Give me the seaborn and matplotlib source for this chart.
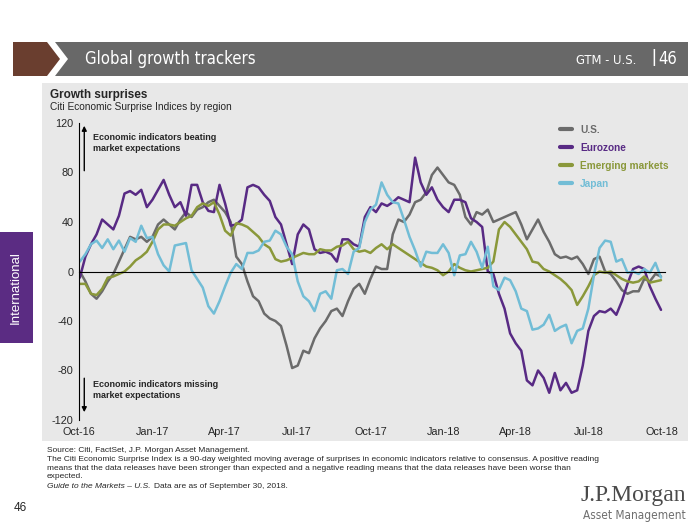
"""Global growth trackers - Citi Economic Surprise Indices by region."""

import pandas as pd
import matplotlib.pyplot as plt
import matplotlib.dates as mdates
from matplotlib.patches import Polygon, Rectangle
import seaborn as sns

###########
# Data    #
###########
# weekly readings, Oct-16 to end of Sep-18
dates = pd.date_range('2016-10-02', periods=105, freq='7D')

us = [0, -8, -18, -22, -16, -8, -2, 8, 18, 28,
      26, 28, 24, 28, 38, 42, 38, 34, 42, 48,
      44, 50, 52, 56, 58, 53, 48, 40, 12, 6,
      -8, -20, -24, -34, -38, -40, -44, -60, -78, -76,
      -64, -66, -54, -46, -40, -32, -30, -36, -24, -14,
      -10, -18, -6, 4, 2, 2, 30, 42, 40, 46,
      56, 58, 64, 78, 84, 78, 72, 70, 62, 44,
      38, 48, 46, 50, 40, 42, 44, 46, 48, 38,
      26, 34, 42, 32, 24, 14, 11, 12, 10, 12,
      6, -2, 10, 12, 0, -2, -8, -15, -18, -16,
      -16, -6, -8, -2, -4]

eurozone = [-5, 12, 22, 30, 42, 38, 34, 45, 63, 65,
            62, 66, 52, 58, 66, 74, 62, 52, 56, 45,
            70, 70, 56, 49, 48, 70, 55, 37, 38, 42,
            68, 70, 68, 62, 57, 44, 38, 22, 6, 30,
            38, 34, 18, 15, 16, 14, 8, 26, 26, 22,
            20, 44, 52, 48, 55, 53, 56, 60, 58, 56,
            92, 72, 62, 68, 58, 52, 48, 58, 58, 56,
            43, 40, 36, 0, -2, -18, -30, -50, -58, -64,
            -88, -92, -80, -86, -98, -82, -96, -90, -98, -96,
            -76, -48, -36, -32, -33, -30, -35, -24, -10, 2,
            4, 2, -12, -22, -31]

emerging = [-10, -10, -18, -19, -14, -5, -4, -2, 0, 4,
            9, 12, 16, 24, 34, 38, 38, 37, 40, 43,
            45, 52, 55, 53, 56, 46, 33, 29, 39, 38,
            36, 32, 28, 22, 19, 10, 8, 9, 11, 13,
            15, 14, 14, 18, 17, 17, 20, 21, 24, 18,
            16, 17, 15, 19, 22, 18, 22, 19, 16, 13,
            10, 7, 4, 3, 1, -3, 0, 6, 3, 1,
            0, 1, 2, 3, 8, 34, 40, 36, 30, 24,
            18, 8, 7, 2, 0, -3, -6, -10, -15, -27,
            -20, -12, -3, 0, -1, 0, -3, -6, -8, -9,
            -8, -4, -9, -8, -7]

japan = [8, 14, 22, 25, 19, 26, 18, 25, 16, 27,
         24, 37, 27, 28, 14, 5, 0, 21, 22, 23,
         1, -6, -13, -28, -34, -24, -12, -1, 6, 2,
         15, 15, 17, 24, 25, 33, 30, 20, 14, -8,
         -20, -24, -32, -18, -16, -22, 1, 2, -2, 16,
         19, 40, 50, 54, 72, 62, 56, 55, 42, 28,
         17, 4, 16, 15, 15, 22, 15, -3, 13, 14,
         24, 16, 3, 20, -12, -15, -5, -7, -16, -30,
         -32, -47, -46, -43, -35, -48, -45, -43, -58, -48,
         -46, -30, -3, 19, 25, 24, 8, 10, -1, 0,
         -2, 2, -1, 7, -5]

regions = ['U.S.', 'Eurozone', 'Emerging markets', 'Japan']
colors = ['#6b6b6b', '#582a84', '#8a983a', '#72bdd6']
yticks = [-120, -80, -40, 0, 40, 80, 120]

data = pd.DataFrame({'date': dates, 'U.S.': us, 'Eurozone': eurozone,
                     'Emerging markets': emerging, 'Japan': japan})
data_long = pd.melt(data, id_vars=['date'], value_vars=regions,
                    var_name='region', value_name='index')

#########
# Style #
#########
sns.set_style('white')
plt.rcParams['font.family'] = ['Liberation Sans', 'DejaVu Sans']
plt.rcParams['axes.unicode_minus'] = False
narrow = dict(family='DejaVu Sans', fontstretch='condensed')

W, H = 700, 525
fig = plt.figure(figsize=(7, 5.25), dpi=100)

# page decorations in pixel coordinates
bg = fig.add_axes([0, 0, 1, 1])
bg.set_xlim(0, W)
bg.set_ylim(H, 0)
bg.axis('off')

bg.add_patch(Polygon([(13, 42), (47, 42), (60, 59), (47, 76), (13, 76)],
                     closed=True, color='#6a3e2f', lw=0))
bg.add_patch(Polygon([(55, 42), (688, 42), (688, 76), (55, 76), (68, 59)],
                     closed=True, color='#686868', lw=0))
bg.text(85, 59, 'Global growth trackers', color='white', fontsize=12,
        va='center', ha='left', **narrow)
bg.text(636, 60, 'GTM - U.S.', color='white', fontsize=9.3,
        va='center', ha='right', **narrow)
bg.text(654, 58, '|', color='white', fontsize=13, va='center', ha='center')
bg.text(677, 59, '46', color='white', fontsize=12, va='center', ha='right',
        **narrow)

# chart panel
bg.add_patch(Rectangle((42, 83), 646, 358, color='#e8e8e8', lw=0))
bg.text(50, 95, 'Growth surprises', fontsize=8.5, fontweight='bold',
        va='center', ha='left')
bg.text(50, 107, 'Citi Economic Surprise Indices by region', fontsize=7.3,
        va='center', ha='left')

# side tab
bg.add_patch(Rectangle((0, 232), 33, 111, color='#5b2c83', lw=0))
bg.text(16, 288, 'International', color='white', fontsize=9.5, rotation=90,
        va='center', ha='center')

# footnotes
fs = 6.0
bg.text(47, 450.5, 'Source: Citi, FactSet, J.P. Morgan Asset Management.', fontsize=fs,
        va='center', ha='left')
bg.text(47, 459.5, 'The Citi Economic Surprise Index is a 90-day weighted moving average of '
        'surprises in economic indicators relative to consensus. A positive reading',
        fontsize=fs, va='center', ha='left')
bg.text(47, 468.5, 'means that the data releases have been stronger than expected and a '
        'negative reading means that the data releases have been worse than',
        fontsize=fs, va='center', ha='left')
bg.text(47, 477, 'expected.', fontsize=fs, va='center', ha='left')
guide = bg.text(47, 486, 'Guide to the Markets \u2013 U.S.', fontsize=fs, style='italic',
                va='center', ha='left')
bg.annotate('Data are as of September 30, 2018.', xy=(1, 0.5), xycoords=guide,
            xytext=(2.5, 0), textcoords='offset points', fontsize=fs,
            va='center', ha='left')
bg.text(20, 508, '46', fontsize=8.5, va='center', ha='center')

# logo
bg.text(686, 496, 'J.P.Morgan', fontsize=17, color='#4a4a4a', va='center', ha='right',
        family=['Liberation Serif', 'DejaVu Serif'])
bg.text(686, 516, 'Asset Management', fontsize=8.5, color='#6e6e6e', va='center',
        ha='right', **narrow)

#############
# Line plot #
#############
ax = fig.add_axes([79 / W, 1 - 420 / H, (665 - 79) / W, (420 - 123) / H])
ax.set_facecolor('none')

sns.lineplot(data=data_long, x='date', y='index', hue='region', hue_order=regions,
             palette=colors, linewidth=1.8, legend=False, ax=ax)

ax.set_xlim(pd.Timestamp('2016-10-01'), pd.Timestamp('2018-10-05'))
ax.set_ylim(-120, 120)
ax.set_yticks(yticks)
ax.set_xlabel('')
ax.set_ylabel('')

for side in ['top', 'right']:
    ax.spines[side].set_visible(False)
ax.spines['left'].set_color('black')
ax.spines['left'].set_linewidth(0.8)
ax.spines['bottom'].set_position(('data', 0))
ax.spines['bottom'].set_color('black')
ax.spines['bottom'].set_linewidth(0.8)

ax.xaxis.set_major_locator(mdates.MonthLocator(bymonth=[1, 4, 7, 10]))
ax.tick_params(axis='x', direction='in', length=3, width=0.8, labelbottom=False)
ax.tick_params(axis='y', direction='out', length=3, width=0.8, labelsize=7.8, pad=1)

# date labels along the bottom of the plot
sec = ax.secondary_xaxis('bottom')
sec.xaxis.set_major_locator(mdates.MonthLocator(bymonth=[1, 4, 7, 10]))
sec.xaxis.set_major_formatter(mdates.DateFormatter('%b-%y'))
sec.tick_params(length=0, labelsize=7.8, pad=5)
sec.spines['bottom'].set_visible(False)

# direction annotations
ax.annotate('', xy=(0.009, 1.0), xytext=(0.009, 0.83), xycoords='axes fraction',
            arrowprops=dict(arrowstyle='-|>', color='black', lw=1,
                            mutation_scale=7))
ax.text(0.024, 0.933, 'Economic indicators beating\nmarket expectations',
        transform=ax.transAxes, fontsize=6.5, fontweight='bold', va='center',
        ha='left', linespacing=1.3)
ax.annotate('', xy=(0.009, 0.017), xytext=(0.009, 0.15), xycoords='axes fraction',
            arrowprops=dict(arrowstyle='-|>', color='black', lw=1,
                            mutation_scale=7))
ax.text(0.024, 0.10, 'Economic indicators missing\nmarket expectations',
        transform=ax.transAxes, fontsize=6.5, fontweight='bold', va='center',
        ha='left', linespacing=1.3)

# legend
leg = ax.legend(ax.lines[:4], regions, loc='upper left',
                bbox_to_anchor=(0.805, 1.025), frameon=False, handlelength=1.2,
                handletextpad=0.8, labelspacing=0.8, labelcolor='linecolor',
                prop={'size': 7.3, 'weight': 'bold'})
for line in leg.get_lines():
    line.set_linewidth(3)

fig.savefig('out.png', dpi=100)
